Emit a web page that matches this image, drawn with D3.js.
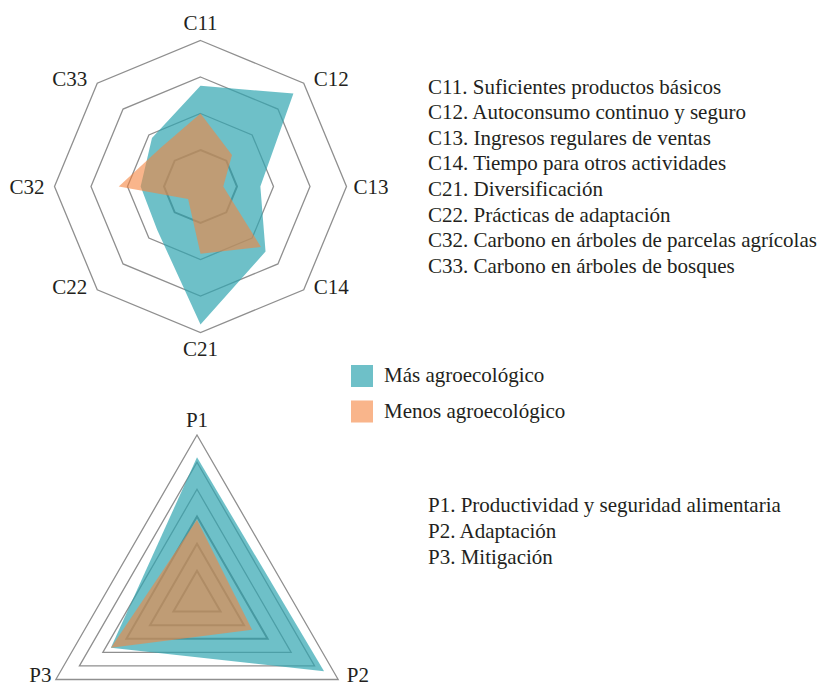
<!DOCTYPE html>
<html>
<head>
<meta charset="utf-8">
<script src="https://cdn.jsdelivr.net/npm/d3@7"></script>
<style>
  body { margin: 0; background: #fff; }
</style>
</head>
<body>
<svg id="chart" width="826" height="689" font-family="'Liberation Serif', 'DejaVu Serif', 'Times New Roman', Times, serif"></svg>
<script>
// ---- data (share of the outer ring) ----
const cAxes = ["C11", "C12", "C13", "C14", "C21", "C22", "C32", "C33"];
const cMas = [0.69, 0.90, 0.41, 0.63, 0.945, 0.42, 0.41, 0.47];
const cMenos = [0.50, 0.305, 0.156, 0.585, 0.46, 0.12, 0.56, 0.38];
const cLevels = [0.25, 0.5, 0.75, 1];
const cNotes = [
  "C11. Suficientes productos básicos",
  "C12. Autoconsumo continuo y seguro",
  "C13. Ingresos regulares de ventas",
  "C14. Tiempo para otros actividades",
  "C21. Diversificación",
  "C22. Prácticas de adaptación",
  "C32. Carbono en árboles de parcelas agrícolas",
  "C33. Carbono en árboles de bosques"
];

const pAxes = ["P1", "P2", "P3"];
const pMas = [0.863, 0.90, 0.61];
const pMenos = [0.48, 0.39, 0.61];
const pLevels = [0.167, 0.333, 0.5, 0.667, 0.833, 1];
const pNotes = [
  "P1. Productividad y seguridad alimentaria",
  "P2. Adaptación",
  "P3. Mitigación"
];

const seriesNames = ["Más agroecológico", "Menos agroecológico"];
const seriesColors = ["rgba(49,165,176,0.7)", "rgba(245,132,62,0.6)"];

let svg = d3.select('#chart');

// draws one radar: rings, both series, axis labels
function radar(opts) {
  let g = svg.append('g').attr('transform', `translate(${opts.cx},${opts.cy})`);
  let n = opts.axes.length;
  let r = d3.scaleLinear().domain([0, 1]).range([0, opts.R]);
  let angle = (d, i) => i * 2 * Math.PI / n;

  let ring = d3.lineRadial()
    .angle((d, i) => angle(d, i))
    .radius(d => r(d))
    .curve(d3.curveLinearClosed);

  // grid rings
  opts.levels.forEach((lv, k) => {
    g.append('path')
      .attr('d', ring(opts.axes.map(() => lv)))
      .attr('fill', 'none')
      .attr('stroke', k < opts.thick ? '#7d7d7d' : '#8f8f8f')
      .attr('stroke-width', k < opts.thick ? 2 : 1.3);
  });

  // series
  [opts.mas, opts.menos].forEach((vals, s) => {
    g.append('path')
      .attr('d', ring(vals))
      .attr('fill', seriesColors[s])
      .attr('stroke', 'none');
  });

  // axis labels
  opts.axes.forEach((name, i) => {
    let a = angle(null, i);
    let sx = Math.sin(a), cy = Math.cos(a);
    let off = opts.labelOff[i];
    let x = (opts.R + off[0]) * sx;
    let y = -(opts.R + off[1]) * cy;
    g.append('text')
      .attr('x', x)
      .attr('y', y)
      .attr('dy', '0.35em')
      .attr('text-anchor', Math.abs(sx) < 0.1 ? 'middle' : (sx > 0 ? 'start' : 'end'))
      .attr('fill', '#231f20')
      .style('font-size', '21px')
      .text(name);
  });
}

radar({
  cx: 200.5, cy: 186.5, R: 146,
  axes: cAxes, mas: cMas, menos: cMenos, levels: cLevels, thick: 1,
  labelOff: [[0, 18], [14, 6], [7, 0], [14, -4], [0, 16], [14, -4], [10, 0], [14, 6]]
});

radar({
  cx: 197, cy: 598, R: 163,
  axes: pAxes, mas: pMas, menos: pMenos, levels: pLevels, thick: 3,
  labelOff: [[0, 15], [10, -10], [5, -10]]
});

// legend
let legend = svg.append('g').attr('transform', 'translate(351,365)');
seriesNames.forEach((name, i) => {
  legend.append('rect')
    .attr('x', 0).attr('y', i * 35.5)
    .attr('width', 22).attr('height', 22)
    .attr('fill', seriesColors[i]);
  legend.append('text')
    .attr('x', 33).attr('y', i * 35.5 + 17)
    .attr('fill', '#231f20')
    .style('font-size', '21px')
    .text(name);
});

// notes
function notes(list, y0) {
  svg.append('g').selectAll('text')
    .data(list)
    .join('text')
    .attr('x', 428)
    .attr('y', (d, i) => y0 + i * 25.6)
    .attr('fill', '#231f20')
    .style('font-size', '21px')
    .text(d => d);
}
notes(cNotes, 93.5);
notes(pNotes, 512.3);
</script>
</body>
</html>
